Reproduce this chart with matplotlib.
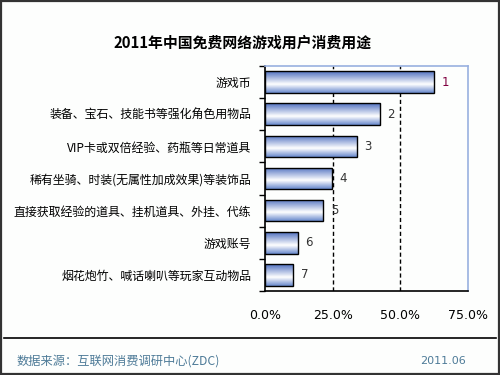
import matplotlib
matplotlib.use("Agg")
import matplotlib.pyplot as plt
import numpy as np
from matplotlib.colors import LinearSegmentedColormap
from matplotlib.patches import Rectangle
from matplotlib.ticker import FixedLocator, FuncFormatter

plt.rcParams['font.family'] = ['Noto Sans CJK SC', 'DejaVu Sans']

categories = ["游戏币",
              "装备、宝石、技能书等强化角色用物品",
              "VIP卡或双倍经验、药瓶等日常道具",
              "稀有坐骑、时装(无属性加成效果)等装饰品",
              "直接获取经验的道具、挂机道具、外挂、代练",
              "游戏账号",
              "烟花炮竹、喊话喇叭等玩家互动物品"]
values = [62.4, 42.5, 34.0, 24.8, 21.5, 12.2, 10.4]
ranks = ["1", "2", "3", "4", "5", "6", "7"]
xticks = [0, 25, 50, 75]

fig = plt.figure(figsize=(5, 3.75), dpi=100)
fig.patch.set_facecolor('#fdfefd')
ax = fig.add_axes([0.53, 0.224, 0.406, 0.6])
ax.set_facecolor('#fdfefd')

y = np.arange(len(categories))
bars = ax.barh(y, values, height=0.67, color='none', edgecolor='black', linewidth=1.0, zorder=3)

cmap = LinearSegmentedColormap.from_list('cyl', [(0, '#5070c0'), (0.6, '#ffffff'), (1.0, '#6888cc')])
grad = np.linspace(0, 1, 64).reshape(-1, 1)
for b in bars:
    x0, y0 = b.get_x(), b.get_y()
    w, h = b.get_width(), b.get_height()
    im = ax.imshow(grad, cmap=cmap, aspect='auto', extent=[x0, x0 + w, y0 + h, y0],
                   origin='upper', zorder=2, interpolation='bilinear')
    im.set_clip_path(b)

for i, (v, r) in enumerate(zip(values, ranks)):
    ax.text(v + 2.8, i, r, va='center', ha='left', fontsize=8.5,
            color='#800040' if i == 0 else '#333333', family=['DejaVu Sans'])

ax.set_xlim(0, 75)
ax.set_ylim(len(categories) - 0.5, -0.5)

for xv in xticks[1:-1]:
    ax.axvline(xv, color='black', linestyle=(0, (3, 2)), linewidth=1.0, zorder=1)

ax.set_xticks(xticks)
ax.xaxis.set_major_formatter(FuncFormatter(lambda v, p: f"{v:.1f}%"))
ax.tick_params(axis='x', length=0, pad=13, labelsize=9)
for lab in ax.get_xticklabels():
    lab.set_family(['DejaVu Sans'])

ax.set_yticks(y)
ax.set_yticklabels(categories, fontsize=8.6)
ax.tick_params(axis='y', which='major', length=0, pad=10)
ax.yaxis.set_minor_locator(FixedLocator(np.arange(-0.5, len(categories), 1)))
ax.tick_params(axis='y', which='minor', length=4, direction='out', color='black', width=1)

for s in ['left', 'bottom']:
    ax.spines[s].set_color('black')
    ax.spines[s].set_linewidth(1.2)
for s in ['top', 'right']:
    ax.spines[s].set_color('#99b0e0')
    ax.spines[s].set_linewidth(1.2)

fig.text(0.486, 0.887, "2011年中国免费网络游戏用户消费用途", ha='center', va='center',
         fontsize=10.7, fontweight='bold', color='black')

fig.add_artist(plt.Line2D([0.008, 0.992], [1 - 338 / 375, 1 - 338 / 375], color='black', linewidth=1.2))
fig.text(0.034, 1 - 361 / 375, "数据来源：互联网消费调研中心(ZDC)", ha='left', va='center',
         fontsize=8.8, color='#4e7b98')
fig.text(0.932, 1 - 361 / 375, "2011.06", ha='right', va='center', fontsize=8,
         color='#4e7b98', family=['DejaVu Sans'])

fig.add_artist(Rectangle((0.002, 0.003), 0.996, 0.994, transform=fig.transFigure,
                         fill=False, edgecolor='#333333', linewidth=1.6))

fig.savefig('out.png', dpi=100, facecolor=fig.get_facecolor())
